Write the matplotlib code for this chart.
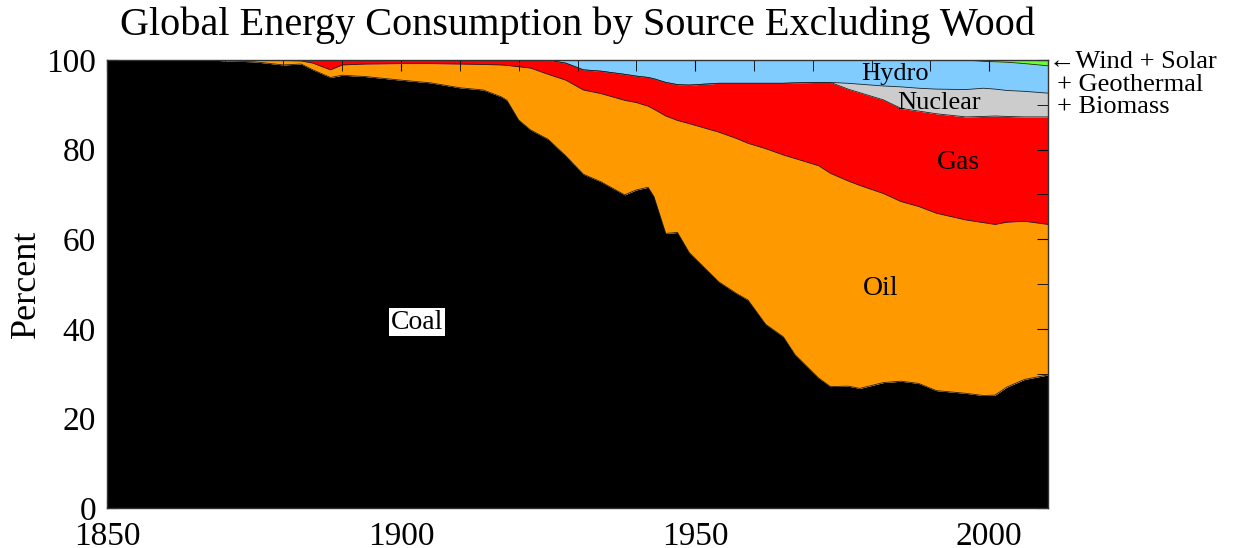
import numpy as np
import matplotlib.pyplot as plt
from matplotlib.ticker import MultipleLocator

years = [1850, 1860, 1868, 1870, 1875, 1880, 1883, 1885, 1888, 1890, 1894, 1900,
         1905, 1910, 1914, 1917, 1918, 1920, 1922, 1925, 1928, 1931, 1934, 1938,
         1940, 1942, 1943, 1945, 1947, 1949, 1954, 1957, 1959, 1962, 1965, 1967,
         1971, 1973, 1976, 1978, 1982, 1985, 1988, 1991, 1996, 1999, 2001, 2003,
         2006, 2010]

# cumulative tops (percent)
coal_top = [100, 100, 100, 99.8, 99.6, 98.9, 99.1, 97.8, 96.1, 96.6, 96.3, 95.5,
            94.9, 93.8, 93.3, 91.8, 91.0, 86.6, 84.4, 82.3, 78.6, 74.5, 72.8, 69.9,
            71.0, 71.6, 69.5, 61.3, 61.5, 57.0, 50.5, 47.9, 46.4, 41.0, 38.2, 34.2,
            29.0, 27.1, 27.2, 26.7, 28.0, 28.3, 27.8, 26.2, 25.6, 25.1, 25.2, 27.0,
            28.7, 29.7]
oil_top = [100, 100, 100, 100, 100, 99.9, 99.8, 99.3, 97.8, 98.9, 99.1, 99.2,
           99.2, 99.1, 99.0, 98.9, 98.8, 98.5, 98.2, 96.8, 95.5, 93.3, 92.5, 91.0,
           90.5, 89.7, 89.0, 87.5, 86.5, 85.8, 83.9, 82.5, 81.4, 80.2, 78.8, 78.0,
           76.4, 74.7, 73.0, 72.0, 70.2, 68.4, 67.3, 65.8, 64.3, 63.7, 63.3, 63.8,
           64.0, 63.3]
gas_top = [100, 100, 100, 100, 100, 100, 100, 100, 100, 100, 100, 100,
           100, 100, 100, 100, 100, 100, 100, 100, 99.3, 97.8, 97.5, 96.8,
           96.4, 96.1, 95.8, 95.0, 94.5, 94.4, 94.8, 94.8, 94.8, 94.8, 94.8, 94.9,
           95.0, 95.0, 93.5, 92.7, 91.1, 89.2, 88.6, 88.0, 87.3, 87.4, 87.5, 87.4,
           87.3, 87.3]
nuclear_top = [100, 100, 100, 100, 100, 100, 100, 100, 100, 100, 100, 100,
               100, 100, 100, 100, 100, 100, 100, 100, 99.3, 97.8, 97.5, 96.8,
               96.4, 96.1, 95.8, 95.0, 94.5, 94.4, 94.8, 94.8, 94.8, 94.8, 94.8, 94.9,
               95.0, 95.0, 94.8, 94.6, 94.2, 94.0, 93.7, 93.5, 93.4, 93.7, 93.5, 93.2,
               93.0, 92.6]
hydro_top = [100] * 44 + [100, 99.7, 99.6, 99.5, 99.2, 98.7]

colors = {'coal': 'black', 'oil': '#ff9900', 'gas': '#ff0000',
          'nuclear': '#cccccc', 'hydro': '#80ccff', 'wind': '#66ff33'}

plt.rcParams['font.family'] = ['Liberation Serif', 'DejaVu Serif']

fig = plt.figure(figsize=(12.33, 5.48), dpi=100)
ax = fig.add_axes([0.0868, 0.073, 0.7632, 0.8175])

y = np.array(years)
layers = [np.zeros(len(y)), coal_top, oil_top, gas_top, nuclear_top, hydro_top,
          np.full(len(y), 100.0)]
names = ['coal', 'oil', 'gas', 'nuclear', 'hydro', 'wind']
for i, n in enumerate(names):
    ax.fill_between(y, layers[i], layers[i + 1], color=colors[n], lw=0)
for b in layers[1:6]:
    ax.plot(y, b, color='#222222', lw=0.6)

ax.set_xlim(1850, 2010)
ax.set_ylim(0, 100)
ax.xaxis.set_major_locator(MultipleLocator(50))
ax.xaxis.set_minor_locator(MultipleLocator(10))
ax.yaxis.set_major_locator(MultipleLocator(20))
ax.yaxis.set_minor_locator(MultipleLocator(10))
ax.tick_params(which='both', direction='in', top=True, right=True, labelsize=24)
ax.tick_params(which='major', length=8)
ax.tick_params(which='minor', length=8)
ax.tick_params(axis='x', pad=10)
ax.tick_params(axis='y', pad=8)
for s in ax.spines.values():
    s.set_linewidth(1.0)
    s.set_color('#333333')

ax.set_ylabel('Percent', fontsize=26, labelpad=2)
ax.set_title('Global Energy Consumption by Source Excluding Wood', fontsize=29, pad=18)

ax.text(1902.7, 41.5, 'Coal', fontsize=20, ha='center', va='center',
        bbox=dict(facecolor='white', edgecolor='none', pad=1))
ax.text(1981.5, 48.9, 'Oil', fontsize=20, ha='center', va='center')
ax.text(1994.8, 77.2, 'Gas', fontsize=20, ha='center', va='center')
ax.text(1984, 96.9, 'Hydro', fontsize=19, ha='center', va='center')
ax.text(1991.5, 90.4, 'Nuclear', fontsize=19, ha='center', va='center')

ax.text(1.001, 0.995, '\u2190Wind + Solar', transform=ax.transAxes, fontsize=19,
        va='center', ha='left')
ax.text(1.009, 0.945, '+ Geothermal', transform=ax.transAxes, fontsize=19,
        va='center', ha='left')
ax.text(1.009, 0.895, '+ Biomass', transform=ax.transAxes, fontsize=19,
        va='center', ha='left')

fig.savefig('out.png', dpi=100)
